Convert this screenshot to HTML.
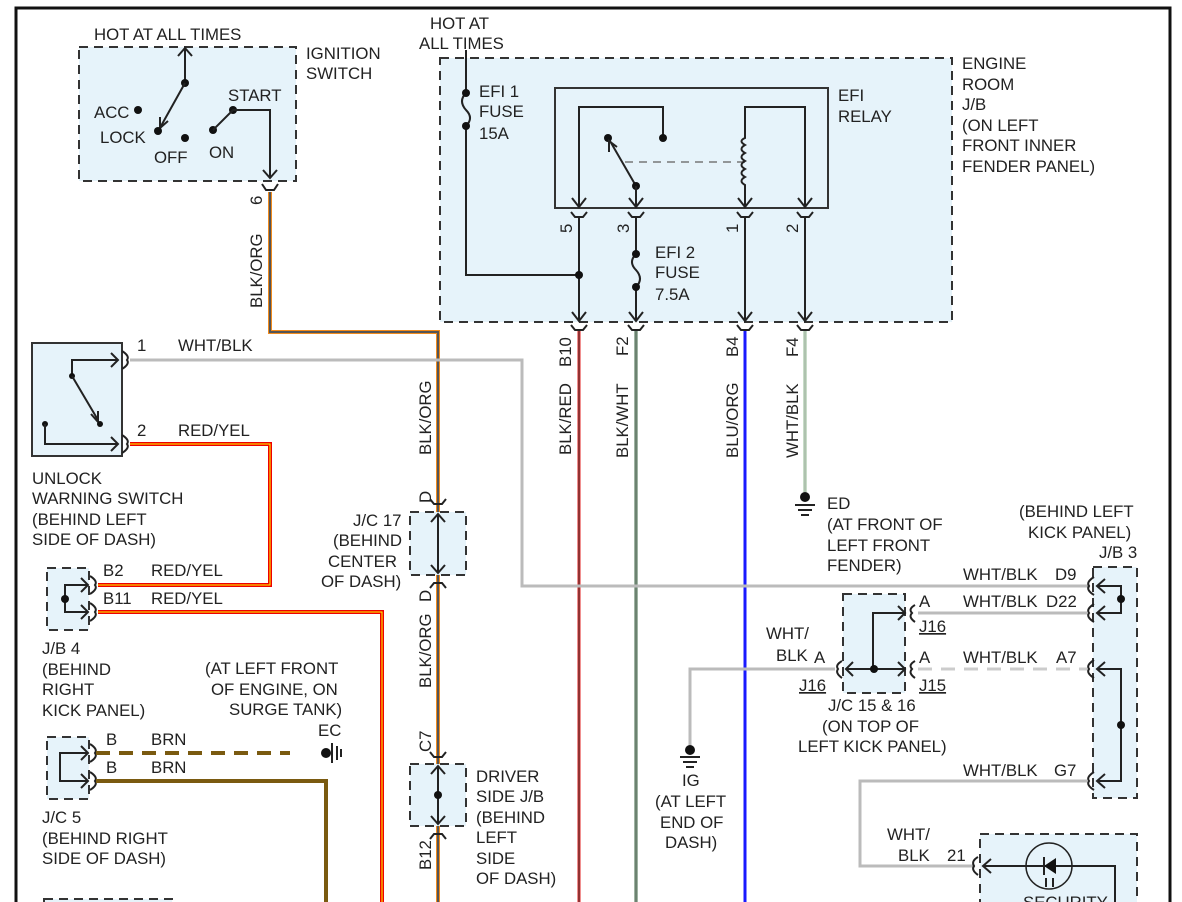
<!DOCTYPE html>
<html><head><meta charset="utf-8"><style>
html,body{margin:0;padding:0;background:#fff}
svg{display:block}
text{font-family:"Liberation Sans",sans-serif;font-size:16.8px;fill:#222}
.b{fill:none;stroke:#222;stroke-width:2}
.d{fill:#e6f3fa;stroke:#333;stroke-width:2;stroke-dasharray:9,6}
.s{fill:#e6f3fa;stroke:#333;stroke-width:2}
.k{fill:#111}
</style></head><body>
<svg width="1182" height="902" viewBox="0 0 1182 902" xmlns="http://www.w3.org/2000/svg">
<rect x="0" y="0" width="1182" height="902" fill="#fff"/>
<path d="M16 902 V8 H1170 V902" fill="none" stroke="#111" stroke-width="3"/>

<!-- Ignition switch -->
<rect class="d" x="79" y="47" width="217" height="134"/>
<text x="94" y="40">HOT AT ALL TIMES</text>
<text x="306" y="59">IGNITION</text><text x="306" y="79">SWITCH</text>
<path class="b" d="M185 83 V48 M178 56 L185 48 L192 56"/>
<circle class="k" cx="185" cy="83" r="4"/>
<path class="b" d="M185 83 L161 126 M160 117 L160 128 L168 121"/>
<circle class="k" cx="138" cy="110" r="4"/><text x="94" y="118">ACC</text>
<circle class="k" cx="158" cy="131" r="4"/><text x="100" y="143">LOCK</text>
<circle class="k" cx="185" cy="138" r="4"/><text x="154" y="163">OFF</text>
<circle class="k" cx="213" cy="130" r="4"/><text x="209" y="158">ON</text>
<circle class="k" cx="233" cy="110" r="4"/><text x="228" y="101">START</text>
<path class="b" d="M213 130 L233 110 H270 V178 M263 170 L270 178 L277 170"/>
<path class="b" d="M262 184 L266 190 H274 L278 184"/>
<text transform="translate(262,205) rotate(-90)">6</text>
<text transform="translate(262,308) rotate(-90)">BLK/ORG</text>

<!-- BLK/ORG wire -->
<path d="M270 192 V332 H438 V902" fill="none" stroke="#f08a1c" stroke-width="4"/>
<path d="M270 192 V332 H438 V902" fill="none" stroke="#555" stroke-width="2"/>
<text transform="translate(431,455) rotate(-90)">BLK/ORG</text>

<!-- Engine room J/B -->
<rect class="d" x="440" y="58" width="512" height="264"/>
<text x="430" y="29">HOT AT</text><text x="419" y="49">ALL TIMES</text>
<text x="962" y="69">ENGINE</text><text x="962" y="90">ROOM</text><text x="962" y="110">J/B</text>
<text x="962" y="131">(ON LEFT</text><text x="962" y="151">FRONT INNER</text><text x="962" y="172">FENDER PANEL)</text>
<path class="b" d="M466 50 V93 Q458 101 466 110 Q474 118 466 126 V275 H579"/>
<circle class="k" cx="466" cy="93" r="4"/><circle class="k" cx="466" cy="126" r="4"/>
<text x="479" y="97">EFI 1</text><text x="479" y="117">FUSE</text><text x="479" y="139">15A</text>
<rect class="s" x="555" y="88" width="273" height="120"/>
<text x="838" y="101">EFI</text><text x="838" y="122">RELAY</text>
<path class="b" d="M579 208 V107 H663 V138"/>
<circle class="k" cx="663" cy="138" r="4"/>
<circle class="k" cx="608" cy="138" r="4"/>
<path class="b" d="M636 186 L610 141 M609 152 L609 141 L617 147"/>
<circle class="k" cx="636" cy="186" r="4"/>
<path class="b" d="M636 186 V208"/>
<path d="M625 162 H745" stroke="#777" stroke-width="1.5" fill="none" stroke-dasharray="8,6"/>
<path class="b" d="M745 208 V185 q-7 -4 0 -8 q-7 -4 0 -8 q-7 -4 0 -8 q-7 -4 0 -8 q-7 -4 0 -8 q-7 -4 0 -7 V107 H805 V208"/>
<path class="b" d="M572 198 L579 207 L586 198 M629 198 L636 207 L643 198 M738 198 L745 207 L752 198 M798 198 L805 207 L812 198"/>
<path class="b" d="M571 212 L575 217 H583 L587 212 M628 212 L632 217 H640 L644 212 M737 212 L741 217 H749 L753 212 M797 212 L801 217 H809 L813 212"/>
<path class="b" d="M579 217 V321 M636 217 V254 Q628 262 636 270 Q644 279 636 287 V321 M745 217 V321 M805 217 V321"/>
<path class="b" d="M572 312 L579 321 L586 312 M629 312 L636 321 L643 312 M738 312 L745 321 L752 312 M798 312 L805 321 L812 312"/>
<path class="b" d="M571 325 L575 330 H583 L587 325 M628 325 L632 330 H640 L644 325 M737 325 L741 330 H749 L753 325 M797 325 L801 330 H809 L813 325"/>
<circle class="k" cx="579" cy="275" r="4"/>
<circle class="k" cx="636" cy="254" r="4"/><circle class="k" cx="636" cy="287" r="4"/>
<text x="655" y="258">EFI 2</text><text x="655" y="278">FUSE</text><text x="655" y="300">7.5A</text>
<text transform="translate(572,233) rotate(-90)">5</text>
<text transform="translate(629,233) rotate(-90)">3</text>
<text transform="translate(738,233) rotate(-90)">1</text>
<text transform="translate(798,233) rotate(-90)">2</text>
<text transform="translate(571,367) rotate(-90)">B10</text>
<text transform="translate(628,356) rotate(-90)">F2</text>
<text transform="translate(738,357) rotate(-90)">B4</text>
<text transform="translate(798,357) rotate(-90)">F4</text>
<text transform="translate(571,455) rotate(-90)">BLK/RED</text>
<text transform="translate(628,458) rotate(-90)">BLK/WHT</text>
<text transform="translate(738,458) rotate(-90)">BLU/ORG</text>
<text transform="translate(798,458) rotate(-90)">WHT/BLK</text>
<path d="M579 331 V902" stroke="#e02020" stroke-width="3" fill="none"/>
<path d="M579 331 V902" stroke="#444" stroke-width="1" fill="none"/>
<path d="M636 331 V902" stroke="#3f6a47" stroke-width="3" fill="none"/>
<path d="M636 331 V902" stroke="#999" stroke-width="1" fill="none"/>
<path d="M745 331 V902" stroke="#1a1aff" stroke-width="3" fill="none"/>
<path d="M805 331 V492" stroke="#90b890" stroke-width="3" fill="none"/>
<path d="M805 331 V492" stroke="#ccc" stroke-width="1" fill="none"/>
<circle class="k" cx="805" cy="497" r="5"/>
<path class="b" d="M795 505 H815 M798 510 H812 M801 515 H809"/>
<text x="827" y="509">ED</text><text x="827" y="530">(AT FRONT OF</text><text x="827" y="551">LEFT FRONT</text><text x="827" y="571">FENDER)</text>

<!-- Unlock warning switch -->
<rect class="s" x="32" y="343" width="90" height="113"/>
<path class="b" d="M72 376 V360 H118 M111 353 L118 360 L111 367"/>
<circle class="k" cx="72" cy="376" r="3"/>
<path class="b" d="M72 376 L98 420 M91 414 L98 422 L98 411"/>
<circle class="k" cx="100" cy="424" r="3"/>
<circle class="k" cx="45" cy="424" r="3"/>
<path class="b" d="M45 424 V444 H118 M111 437 L118 444 L111 451"/>
<path class="b" d="M122 351 Q130 356 127 360 Q130 364 122 369 M122 435 Q130 440 127 444 Q130 448 122 453"/>
<text x="137" y="351">1</text><text x="178" y="351">WHT/BLK</text>
<text x="137" y="436">2</text><text x="178" y="436">RED/YEL</text>
<text x="32" y="484">UNLOCK</text><text x="32" y="504">WARNING SWITCH</text>
<text x="32" y="525">(BEHIND LEFT</text><text x="32" y="545">SIDE OF DASH)</text>
<path d="M130 360 H522 V586 H1090" stroke="#bbb" stroke-width="3" fill="none"/>
<path d="M130 444 H270 V585 H98" stroke="#e00" stroke-width="4" fill="none"/>
<path d="M130 444 H270 V585 H98" stroke="#ff0" stroke-width="1" fill="none"/>
<path d="M98 612 H382 V902" stroke="#e00" stroke-width="4" fill="none"/>
<path d="M98 612 H382 V902" stroke="#ff0" stroke-width="1" fill="none"/>

<!-- J/B 4 -->
<rect class="d" x="47" y="568" width="42" height="62"/>
<path class="b" d="M88 585 H65 V612 H88 M81 578 L88 585 L81 592 M81 605 L88 612 L81 619"/>
<circle class="k" cx="65" cy="599" r="4"/>
<path class="b" d="M90 576 Q98 581 95 585 Q98 589 90 594 M90 603 Q98 608 95 612 Q98 616 90 621"/>
<text x="103" y="576">B2</text><text x="151" y="576">RED/YEL</text>
<text x="103" y="604">B11</text><text x="151" y="604">RED/YEL</text>
<text x="42" y="654">J/B 4</text><text x="42" y="675">(BEHIND</text><text x="42" y="695">RIGHT</text><text x="42" y="716">KICK PANEL)</text>
<text x="205" y="674">(AT LEFT FRONT</text><text x="211" y="695">OF ENGINE, ON</text><text x="229" y="715">SURGE TANK)</text>
<text x="318" y="736">EC</text>

<!-- J/C 5 -->
<rect class="d" x="47" y="737" width="42" height="62"/>
<path class="b" d="M88 753 H60 V781 H88 M81 746 L88 753 L81 760 M81 774 L88 781 L81 788"/>
<path class="b" d="M90 744 Q98 749 95 753 Q98 757 90 762 M90 772 Q98 777 95 781 Q98 785 90 790"/>
<text x="106" y="745">B</text><text x="151" y="745">BRN</text>
<text x="106" y="773">B</text><text x="151" y="773">BRN</text>
<path d="M96 753 H290" stroke="#7a5a10" stroke-width="4" stroke-dasharray="14,9" fill="none"/>
<circle class="k" cx="326" cy="753" r="5"/>
<path class="b" d="M332 743 V763 M337 746 V760 M341 749 V757"/>
<path d="M96 781 H326 V902" stroke="#7a5a10" stroke-width="4" fill="none"/>
<text x="42" y="823">J/C 5</text><text x="42" y="844">(BEHIND RIGHT</text><text x="42" y="864">SIDE OF DASH)</text>
<rect class="d" x="44" y="899" width="128" height="10"/>

<!-- J/C 17 -->
<rect class="d" x="410" y="512" width="56" height="63"/>
<path class="b" d="M430 499 L434 504 H442 L446 499 M430 588 L434 583 H442 L446 588"/>
<path class="b" d="M438 514 V573 M431 522 L438 514 L445 522 M431 565 L438 573 L445 565"/>
<text transform="translate(431,503) rotate(-90)">D</text>
<text transform="translate(431,602) rotate(-90)">D</text>
<text x="353" y="526">J/C 17</text><text x="333" y="546">(BEHIND</text><text x="328" y="567">CENTER</text><text x="321" y="587">OF DASH)</text>
<text transform="translate(431,688) rotate(-90)">BLK/ORG</text>
<rect class="d" x="410" y="764" width="56" height="62"/>
<path class="b" d="M430 752 L434 757 H442 L446 752 M430 839 L434 834 H442 L446 839"/>
<path class="b" d="M438 766 V824 M431 774 L438 766 L445 774 M431 816 L438 824 L445 816"/>
<circle class="k" cx="438" cy="795" r="4"/>
<text transform="translate(431,752) rotate(-90)">C7</text>
<text transform="translate(431,870) rotate(-90)">B12</text>
<text x="476" y="782">DRIVER</text><text x="476" y="802">SIDE J/B</text><text x="476" y="823">(BEHIND</text><text x="476" y="843">LEFT</text><text x="476" y="864">SIDE</text><text x="476" y="884">OF DASH)</text>

<!-- J/B 3 -->
<rect class="d" x="1093" y="567" width="44" height="231"/>
<text x="1019" y="517">(BEHIND LEFT</text><text x="1028" y="538">KICK PANEL)</text><text x="1099" y="558">J/B 3</text>
<path class="b" d="M1097 586 H1121 V613 H1097 M1097 669 H1121 V781 H1097"/>
<path class="b" d="M1105 579 L1097 586 L1105 593 M1105 606 L1097 613 L1105 620 M1105 662 L1097 669 L1105 676 M1105 774 L1097 781 L1105 788"/>
<circle class="k" cx="1121" cy="599" r="4"/><circle class="k" cx="1121" cy="725" r="4"/>
<path class="b" d="M1094 577 Q1086 582 1089 586 Q1086 590 1094 595 M1094 604 Q1086 609 1089 613 Q1086 617 1094 622 M1094 660 Q1086 665 1089 669 Q1086 673 1094 678 M1094 772 Q1086 777 1089 781 Q1086 785 1094 790"/>
<text x="963" y="580">WHT/BLK</text><text x="1055" y="580">D9</text>
<text x="963" y="607">WHT/BLK</text><text x="1046" y="607">D22</text>
<text x="963" y="663">WHT/BLK</text><text x="1056" y="663">A7</text>
<text x="963" y="776">WHT/BLK</text><text x="1054" y="776">G7</text>
<!-- J/C 15&16 -->
<rect class="d" x="843" y="594" width="62" height="99"/>
<path class="b" d="M873 669 V613 H905 M898 606 L905 613 L898 620 M846 669 H905 M853 662 L846 669 L853 676 M898 662 L905 669 L898 676"/>
<circle class="k" cx="874" cy="669" r="4"/>
<path class="b" d="M915 605 Q908 609 912 613 Q908 617 915 622 M915 661 Q908 665 912 669 Q908 673 915 678 M842 661 Q835 665 838 669 Q835 673 842 678"/>
<path d="M918 613 H1087" stroke="#bbb" stroke-width="3" fill="none"/>
<path d="M918 669 H1087" stroke="#ccc" stroke-width="3" stroke-dasharray="14,9" fill="none"/>
<path d="M835 669 H690 V745" stroke="#bbb" stroke-width="3" fill="none"/>
<circle class="k" cx="690" cy="750" r="5"/>
<path class="b" d="M680 757 H700 M683 762 H697 M686 767 H694"/>
<text x="919" y="607">A</text><text x="919" y="663">A</text>
<text x="919" y="632" text-decoration="underline">J16</text>
<text x="919" y="691" text-decoration="underline">J15</text>
<text x="766" y="639">WHT/</text><text x="776" y="661">BLK</text><text x="814" y="663">A</text>
<text x="799" y="691" text-decoration="underline">J16</text>
<text x="828" y="711">J/C 15 &amp; 16</text><text x="822" y="732">(ON TOP OF</text><text x="798" y="752">LEFT KICK PANEL)</text>
<text x="682" y="786">IG</text><text x="655" y="807">(AT LEFT</text><text x="660" y="828">END OF</text><text x="665" y="848">DASH)</text>
<path d="M1087 781 H860 V866 H975" stroke="#bbb" stroke-width="3" fill="none"/>
<text x="887" y="840">WHT/</text><text x="898" y="861">BLK</text><text x="947" y="861">21</text>
<rect class="d" x="980" y="834" width="157" height="90"/>
<path class="b" d="M978 857 Q971 861 974 866 Q971 870 978 875 M983 866 H1115 V902 M991 859 L983 866 L991 873"/>
<circle cx="1049" cy="866" r="23" fill="none" stroke="#222" stroke-width="1.5"/>
<path d="M1044 866 L1056 858 V874 Z" fill="#111"/><path class="b" d="M1044 857 V875"/>
<path class="b" d="M1046 878 V887 M1053 878 V887" stroke-width="1.5"/>
<text x="1023" y="908">SECURITY</text>
</svg>
</body></html>
